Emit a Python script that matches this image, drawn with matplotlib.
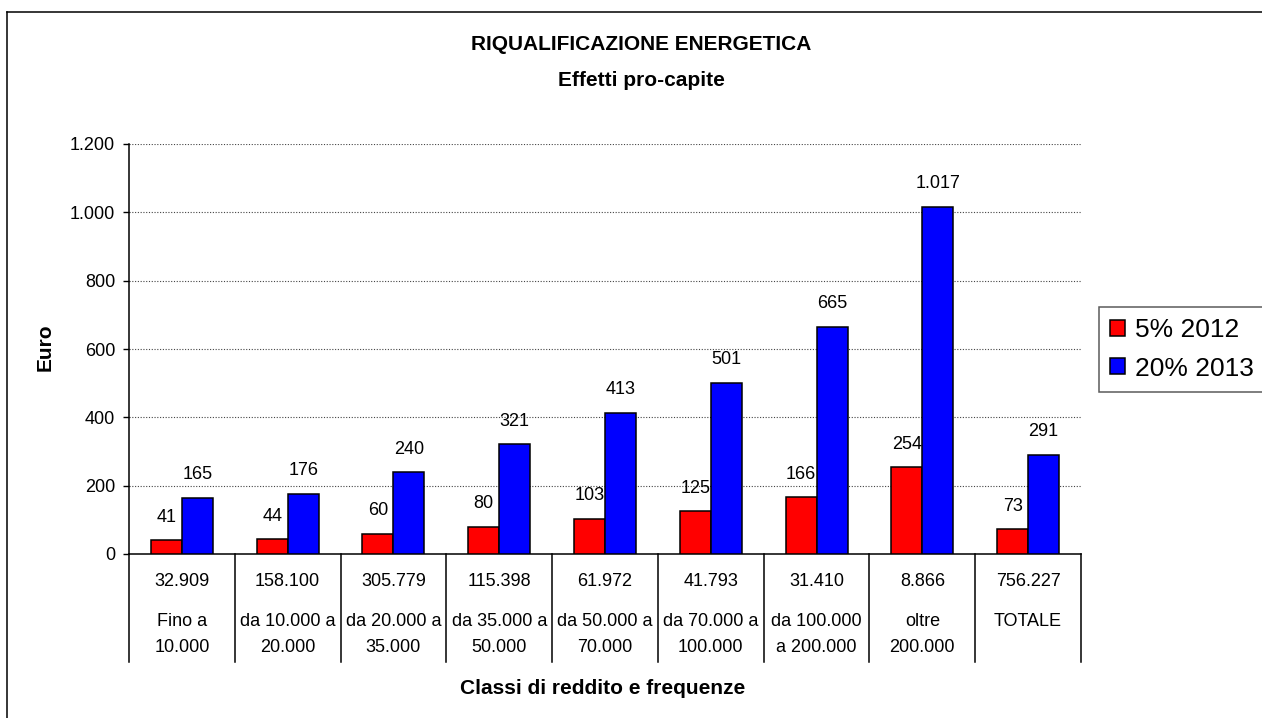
import numpy as np
import matplotlib
matplotlib.use("Agg")
import matplotlib.pyplot as plt
from matplotlib.lines import Line2D
import matplotlib.transforms as mtransforms

plt.rcParams['font.family'] = ['Liberation Sans', 'DejaVu Sans']

# data
freq = ["32.909", "158.100", "305.779", "115.398", "61.972",
        "41.793", "31.410", "8.866", "756.227"]
classes = ["Fino a\n10.000", "da 10.000 a\n20.000", "da 20.000 a\n35.000",
           "da 35.000 a\n50.000", "da 50.000 a\n70.000", "da 70.000 a\n100.000",
           "da 100.000\na 200.000", "oltre\n200.000", "TOTALE"]
eff_2012 = [41, 44, 60, 80, 103, 125, 166, 254, 73]
eff_2013 = [165, 176, 240, 321, 413, 501, 665, 1017, 291]
yticks = [0, 200, 400, 600, 800, 1000, 1200]


def it_fmt(v):
    # italian thousands separator
    return "{:,}".format(int(v)).replace(",", ".")


W, H = 1262, 718
fig = plt.figure(figsize=(W / 100, H / 100), dpi=100)
ax = fig.add_axes([129 / W, 1 - 554 / H, (1081 - 129) / W, (554 - 144) / H])

x = np.arange(len(classes))
bw = 0.293
ax.bar(x - bw / 2, eff_2012, bw, color='#ff0000', edgecolor='black',
       linewidth=1.1, label='5% 2012', zorder=3)
ax.bar(x + bw / 2, eff_2013, bw, color='#0000ff', edgecolor='black',
       linewidth=1.1, label='20% 2013', zorder=4)

for i in range(len(classes)):
    ax.annotate(it_fmt(eff_2012[i]), (x[i] - bw / 2, eff_2012[i]), xytext=(0, 16.5),
                textcoords='offset points', ha='center', va='center',
                fontsize=13, zorder=3.5)
    ax.annotate(it_fmt(eff_2013[i]), (x[i] + bw / 2, eff_2013[i]), xytext=(0, 16.5),
                textcoords='offset points', ha='center', va='center',
                fontsize=13, zorder=5)

ax.set_xlim(-0.5, len(classes) - 0.5)
ax.set_ylim(0, 1200)
ax.set_yticks(yticks)
ax.set_yticklabels([it_fmt(v) for v in yticks], fontsize=13)
ax.tick_params(axis='y', direction='out', length=4, width=1, pad=6)
ax.set_xticks([])
for s in ['top', 'right']:
    ax.spines[s].set_visible(False)
ax.spines['left'].set_linewidth(1.1)
ax.spines['bottom'].set_linewidth(1.1)

for v in yticks[1:]:
    ax.axhline(v, color='#444444', linewidth=0.8, linestyle=(0, (1, 1.5)), zorder=1)

# category labels and separators below the axis
trans = mtransforms.blended_transform_factory(ax.transData, ax.transAxes)
px = 1 / (554 - 144)
for b in np.arange(-0.5, len(classes), 1.0):
    ax.plot([b, b], [0, -(662 - 554) * px], color='black', linewidth=1.1,
            transform=trans, clip_on=False)
for i in range(len(classes)):
    ax.text(x[i], -(582 - 554) * px, freq[i], transform=trans,
            ha='center', va='center', fontsize=13)
    lines = classes[i].split("\n")
    for j, ln in enumerate(lines):
        ax.text(x[i], -(622 + 25 * j - 554) * px, ln, transform=trans,
                ha='center', va='center', fontsize=13)

fig.text(641 / W, 1 - 45 / H, "RIQUALIFICAZIONE ENERGETICA", ha='center',
         va='center', fontsize=15, fontweight='bold')
fig.text(641 / W, 1 - 80 / H, "Effetti pro-capite", ha='center',
         va='center', fontsize=15, fontweight='bold')
fig.text(45 / W, 1 - 347 / H, "Euro", rotation=90, ha='center', va='center',
         fontsize=15, fontweight='bold')
fig.text(603 / W, 1 - 688 / H, "Classi di reddito e frequenze", ha='center',
         va='center', fontsize=15, fontweight='bold')

leg = fig.legend(loc='upper left', bbox_to_anchor=(1099 / W, 1 - 307 / H),
                 bbox_transform=fig.transFigure, fontsize=19, frameon=True,
                 fancybox=False, borderaxespad=0, borderpad=0.42,
                 handlelength=0.58, handleheight=0.55, handletextpad=0.38,
                 labelspacing=0.55)
leg.get_frame().set_edgecolor('#333333')
leg.get_frame().set_linewidth(1.1)

# outer chart border
fig.add_artist(Line2D([7 / W, 7 / W], [0, 1 - 12 / H], color='black', linewidth=1.1))
fig.add_artist(Line2D([7 / W, 1], [1 - 12 / H, 1 - 12 / H], color='black', linewidth=1.1))

fig.savefig("out.png", dpi=100)
